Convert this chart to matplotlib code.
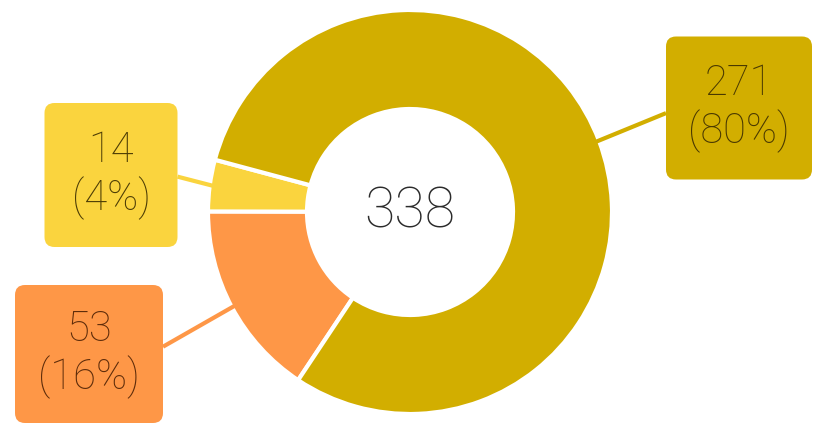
import numpy as np
import matplotlib
matplotlib.use("Agg")
import matplotlib.pyplot as plt
from matplotlib.patches import FancyBboxPatch

## values
labels = ["14", "53", "271"]
values = [14, 53, 271]
percents = ["4%", "16%", "80%"]
total = 338

colors = ["#FAD43E", "#FE9747", "#D2AE00"]
text_colors = ["#4d3d05", "#5e2c0a", "#4a3900"]

## label box centres in pixels (x, y from top) and sizes
box_centres = [(111, 175), (89, 354), (739, 108)]
box_sizes = [(133, 144), (148, 138), (146, 143)]

W, H = 814, 426
cx, cy = 410, 212
r_out, r_in = 202, 103

FONT = "Roboto"

fig = plt.figure(figsize=(W / 100, H / 100), dpi=100)
ax = fig.add_axes([0, 0, 1, 1])

start = 165
wedges, _ = ax.pie(
    values,
    colors=colors,
    startangle=start,
    counterclock=True,
    radius=r_out,
    center=(cx, H - cy),
    frame=True,
    wedgeprops=dict(width=r_out - r_in, edgecolor="white", linewidth=3),
)

ax.set_xlim(0, W)
ax.set_ylim(0, H)
ax.set_aspect("equal")
ax.axis("off")

ax.text(cx, H - cy, str(total), ha="center", va="center",
        fontsize=40, color="#2b2b2b", family=FONT, fontweight="light")

for w, col, tcol, val, pct, (bx, by), (bw, bh) in zip(
        wedges, colors, text_colors, values, percents, box_centres, box_sizes):
    mid = np.deg2rad((w.theta1 + w.theta2) / 2)
    px = cx + (r_out - 4) * np.cos(mid)
    py = (H - cy) + (r_out - 4) * np.sin(mid)
    byy = H - by
    # line goes to the nearest side of the box
    ex = bx - bw / 2 if bx > cx else bx + bw / 2
    ey = byy + (py - byy) * 0.15
    ax.plot([px, ex], [py, ey], color=col, lw=3, solid_capstyle="butt", zorder=1)
    box = FancyBboxPatch((bx - bw / 2 + 10, byy - bh / 2 + 10), bw - 20, bh - 20,
                         boxstyle="round,pad=10", facecolor=col, edgecolor="none", zorder=2)
    ax.add_patch(box)
    ax.text(bx, byy, f"{val}\n({pct})", ha="center", va="center", fontsize=30,
            color=tcol, family=FONT, fontweight="light", linespacing=1.15, zorder=3)

fig.savefig("out.png", dpi=100, facecolor="white")
